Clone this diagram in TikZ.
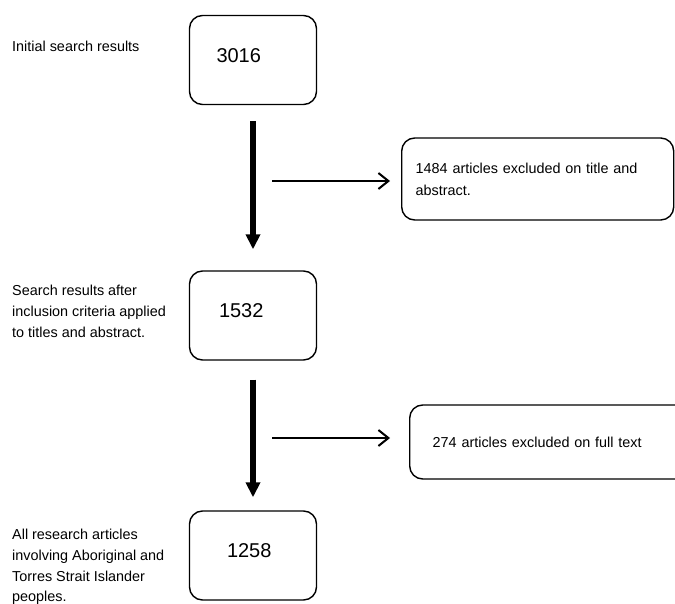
\documentclass[tikz,border=0pt]{standalone}
\usepackage{fontspec}
\setmainfont{Liberation Sans}
\usetikzlibrary{arrows.meta}

\tikzset{
  numbox/.style={draw, line width=1.4pt, rounded corners=13pt, minimum width=127pt, minimum height=89pt, align=left, font=\fontsize{20}{24}\selectfont, text height=14.5pt, text depth=10pt},
  exclbox/.style={draw, line width=1.4pt, rounded corners=13pt, anchor=west, align=left, font=\fontsize{14.4}{22}\selectfont},
  lbl/.style={anchor=west, align=left, inner sep=0pt, font=\fontsize{14.4}{20.7}\selectfont},
  bigarrow/.style={line width=6.5pt, -{Triangle[width=14pt,length=15pt]}},
  thinarrow/.style={line width=2pt, -{Straight Barb[width=16pt,length=10pt]}}
}

\begin{document}
\begin{tikzpicture}
\begin{scope}[x=1pt, y=-1pt]

\useasboundingbox (0,0) rectangle (675,604);

\node[lbl] (labInitial) at (12,46) {Initial search results};
\node[lbl] (labScreened) at (12,311.5) {Search results after\\inclusion criteria applied\\to titles and abstract.};
\node[lbl] (labIncluded) at (12,567) {All research articles\\involving Aboriginal and\\Torres Strait Islander\\peoples.};

\node[numbox, text width=73pt] (initial) at (253,60) {3016};
\node[numbox, text width=68pt] (screened) at (253,315.5) {1532};
\node[numbox, text width=52pt] (included) at (253,555.5) {1258};

\node[exclbox, text width=244pt, inner xsep=14pt, minimum height=82pt] (exTitle) at (401,179) {1484 articles excluded on title and\\abstract.};
\node[exclbox, text width=280pt, inner xsep=23pt, minimum height=74pt] (exFull) at (409,442) {274 articles excluded on full text};

\draw[bigarrow, shorten <=16pt, shorten >=21pt] (initial.south) -- (screened.north);
\draw[bigarrow, shorten <=19pt, shorten >=13pt] (screened.south) -- (included.north);

\coordinate (h1) at (272,181);
\coordinate (h2) at (272,438);
\draw[thinarrow, shorten >=11pt] (h1) -- (h1 -| exTitle.west);
\draw[thinarrow, shorten >=19pt] (h2) -- (h2 -| exFull.west);

\end{scope}
\end{tikzpicture}
\end{document}
